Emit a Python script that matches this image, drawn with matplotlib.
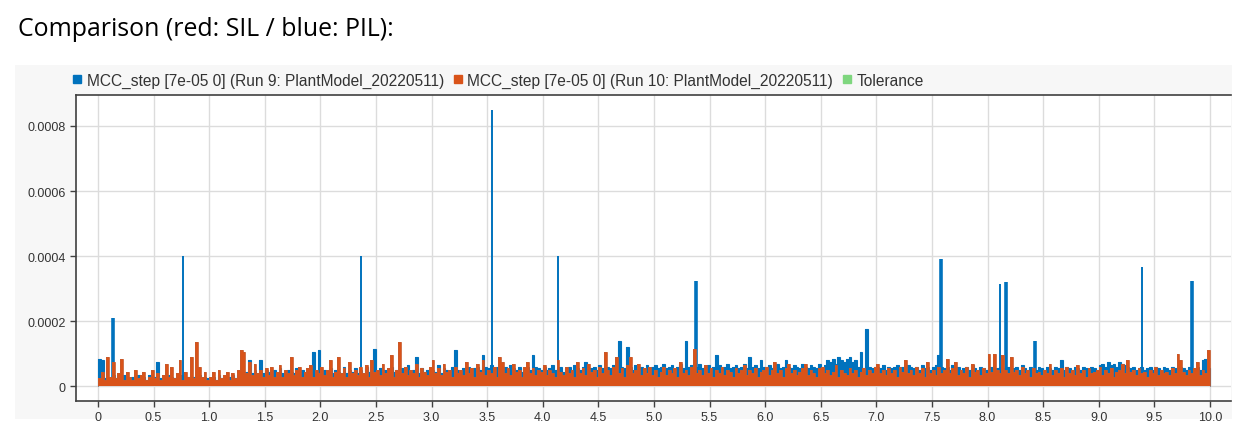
import numpy as np
import matplotlib
matplotlib.use("Agg")
import matplotlib.pyplot as plt
from matplotlib.lines import Line2D

# sample grid of the two runs (s)
dt = 0.025
t_start = 0.0

# Run 10 (SIL, orange) - values in units of 1e-5, one row per second
sil_vals = [
    2.5, 4.5, 2, 9, 3, 7.5, 2.5, 4, 8.5, 2, 4.5, 3, 2, 5, 2.5, 3.5, 4.5, 2, 3, 5,
    2.5, 4, 2, 3.5, 7, 3, 6, 2.5, 4, 8, 2, 4.5, 3, 9, 2.5, 13.5, 6, 3, 4.5, 2,
    3, 4.5, 2, 5, 2.5, 3.5, 4.5, 2, 4, 2.5, 5, 11, 10.5, 4, 7.5, 3.5, 7, 4, 5, 3,
    5.5, 3.5, 6, 3, 4.5, 6.5, 3, 5, 4, 9, 3.5, 5, 6, 3, 4.5, 5.5, 6.5, 3, 5, 4,
    6, 3.5, 5, 8, 3, 4.5, 9, 4, 5.5, 3, 7.5, 4, 5, 3.5, 6, 4, 6.5, 3, 8, 4.5,
    5, 3.5, 7, 4, 5.5, 9.5, 3, 5, 13.5, 4, 6, 3.5, 5, 4, 7, 3, 5.5, 4.5, 3.5, 6,
    8, 4, 5.5, 3.5, 7, 4.5, 5, 3, 6, 4, 5, 3.5, 7.5, 4, 5.5, 3, 7, 4.5, 8, 3.5,
    5, 4, 6, 3, 9, 7.5, 4, 5.5, 3.5, 7, 4.5, 5, 3, 6, 7.5, 4, 5.5, 3.5, 5, 4.5,
    6.5, 3.5, 5, 4, 3, 8, 4.5, 3.5, 6, 4, 5, 3, 7.5, 4, 5.5, 3.5, 7, 4.5, 5, 3,
    6, 4, 10.5, 5, 3.5, 6, 9, 4, 5.5, 3, 6.5, 9, 4, 5, 7, 3.5, 5.5, 4, 6, 3.5,
    5, 3, 4.5, 6, 3.5, 5, 4, 5.5, 3, 7.5, 4, 5, 3.5, 6, 11.5, 4, 5, 3.5, 6.5, 4,
    5.5, 3, 5, 4, 6, 3.5, 5, 4.5, 3, 5.5, 4, 5, 6.5, 3.5, 5, 4, 5.5, 3, 4.5, 5,
    6, 3.5, 5, 7.5, 4, 5, 3, 5.5, 7, 4, 5, 3.5, 4.5, 5.5, 7, 3.5, 5, 4, 3, 5.5,
    6, 4, 5, 3.5, 4.5, 6.5, 3, 5, 4, 3.5, 5.5, 4, 5, 3, 4.5, 5.5, 3.5, 5, 4, 6,
    7, 4, 5, 3.5, 5.5, 4, 5, 3, 6, 4.5, 8, 4, 5, 3.5, 6, 4, 5.5, 3, 7.5, 4,
    5, 3.5, 6, 4, 5, 8.5, 4, 5.5, 7.5, 3.5, 5, 4, 6, 3, 7, 4.5, 5, 3.5, 5.5, 4,
    10, 4.5, 10, 5, 4, 9.5, 5, 4, 9, 4.5, 5, 3.5, 6, 4, 5, 3, 5.5, 4, 4.5, 3.5,
    5, 4, 7, 3.5, 5, 4, 5.5, 3, 6, 4, 5, 3.5, 6.5, 4, 5, 3, 5.5, 4, 4.5, 5,
    6, 3.5, 5, 4, 5.5, 3, 4.5, 5, 7, 4, 8, 4.5, 5, 3.5, 5.5, 4, 4.5, 3, 5, 4,
    6, 3.5, 5, 4, 4.5, 3.5, 5.5, 4, 10, 8, 4.5, 3.5, 5, 4, 5.5, 7.5, 3.5, 5, 4, 11,
]

# Run 9 (PIL, blue) - values in units of 1e-5
pil_vals = [
    8.5, 8, 2.5, 3, 2, 3.5, 2.5, 3, 2, 3.5, 3, 2.5, 3, 2, 3.5, 2.5, 3, 2, 3.5, 2.5,
    3, 7.5, 2.5, 3, 2, 3.5, 3, 2.5, 3, 2, 3.5, 2.5, 3, 2, 3, 2.5, 3.5, 2, 3, 2.5,
    2.5, 3, 2, 3.5, 2.5, 3, 2, 3, 3.5, 2.5, 3.5, 4, 3, 4.5, 8, 4, 5, 3.5, 8, 4,
    5, 4.5, 3.5, 5, 4, 5.5, 4, 3.5, 5, 4.5, 4, 5.5, 3.5, 5, 4, 4.5, 5, 10.5, 4, 11,
    4.5, 5, 3.5, 5.5, 4, 5, 4.5, 3.5, 6, 4, 5, 4.5, 5.5, 4, 5, 3.5, 6, 4.5, 5, 11.5,
    4, 5.5, 4.5, 5, 4, 6, 4.5, 5, 4, 5.5, 4, 6.5, 4.5, 5, 9, 4, 5.5, 4.5, 5, 4,
    5, 4.5, 6.5, 4, 5.5, 5, 4.5, 6, 11, 5, 4.5, 5.5, 5, 6, 4.5, 5.5, 6, 5, 9.5, 6,
    5.5, 6.5, 5, 6, 4.5, 5.5, 6, 5, 6.5, 5.5, 5, 6, 4.5, 5.5, 6, 5, 9.5, 6, 5.5, 5,
    6, 5, 5.5, 6.5, 5, 5.5, 6, 4.5, 5.5, 6, 5, 6.5, 5.5, 5, 6, 7.5, 5, 5.5, 6, 5,
    6.5, 5.5, 5, 6, 5.5, 6.5, 5, 14, 6, 5.5, 12, 6, 5, 6.5, 5.5, 6, 5, 6.5, 5.5, 6,
    6.5, 5.5, 6, 7, 5.5, 6, 6.5, 5, 6, 7, 5.5, 14, 6, 6.5, 5.5, 6, 7, 5.5, 6, 6.5,
    5, 6, 9.5, 6.5, 5.5, 6, 7, 5.5, 6, 6.5, 5.5, 6, 7, 5.5, 9, 6, 6.5, 5.5, 8, 6,
    6, 6.5, 5.5, 6, 7, 5.5, 6, 8, 6, 5.5, 6.5, 6, 5.5, 7, 6, 5.5, 6.5, 6, 5.5, 7,
    6, 6.5, 8, 7.5, 8.5, 7, 9, 8, 7.5, 8.5, 9, 7.5, 8, 6, 10.5, 5.5, 17.5, 6, 5.5, 6,
    6, 5.5, 6.5, 5, 6, 5.5, 6, 6.5, 5.5, 6, 5, 6.5, 6, 5.5, 6, 5, 6.5, 5.5, 6, 5,
    6, 6.5, 9.5, 6, 5.5, 6, 5, 6.5, 5.5, 6, 5, 5.5, 6, 5, 6.5, 5.5, 5, 6, 5.5, 5,
    5.5, 6, 5, 5.5, 6, 5, 5.5, 6, 5, 5.5, 6, 5, 6.5, 5.5, 5, 6, 5.5, 5, 6, 5.5,
    5, 6, 5.5, 5, 6, 5.5, 8, 5, 6, 5.5, 5, 6, 5.5, 5, 6, 5.5, 5, 6, 5.5, 5,
    6.5, 7, 6, 7.5, 6.5, 7, 6, 7.5, 7, 6.5, 6, 5.5, 6, 5, 5.5, 6, 5, 5.5, 6, 5,
    6, 5.5, 5, 6, 5.5, 5, 6, 5.5, 5, 6, 5.5, 5, 6, 5.5, 5, 6, 5, 8, 8.5, 5.5,
]

# isolated PIL spikes: time (s), height (1e-5)
spike_t = [0.136, 0.763, 2.366, 3.547, 4.134, 5.381, 7.585, 8.108, 8.163, 8.43, 9.394, 9.84]
spike_h = [21, 40, 40, 85, 40, 32.5, 39, 31.5, 32, 14, 36.5, 32.5]
spike_thick = [True, False, False, False, False, True, True, False, True, True, False, True]

labels = ["MCC_step [7e-05 0] (Run 9: PlantModel_20220511)",
          "MCC_step [7e-05 0] (Run 10: PlantModel_20220511)",
          "Tolerance"]
xticks = np.arange(0, 10.01, 0.5)
xtick_labels = ["%.1f" % v if v > 0 else "0" for v in xticks]
yticks = [0, 0.0002, 0.0004, 0.0006, 0.0008]
ytick_labels = ["0", "0.0002", "0.0004", "0.0006", "0.0008"]

blue = "#0072BD"
orange = "#D95319"
green = "#7ED67E"

sil = np.array(sil_vals) * 1e-5
pil = np.array(pil_vals) * 1e-5
edges = t_start + dt * np.arange(len(sil) + 1)

fig = plt.figure(figsize=(12.54, 4.35), dpi=100)

# light grey panel behind the plot, like the inspector window
panel = fig.add_axes([15 / 1254, 1 - 420 / 435, 1217 / 1254, 354 / 435], zorder=0)
panel.set_facecolor("#f7f7f7")
panel.set_xticks([])
panel.set_yticks([])
for s in panel.spines.values():
    s.set_visible(False)

fig.text(18 / 1254, 1 - 30 / 435, "Comparison (red: SIL / blue: PIL):",
         fontsize=17.9, family="Open Sans", va="center", ha="left", color="black")

ax = fig.add_axes([76 / 1254, 1 - 402 / 435, (1231 - 76) / 1254, (402 - 96) / 435],
                  zorder=1)
ax.set_facecolor("white")

# zero-order-hold signals, filled down to zero plus a thin edge
ax.stairs(pil, edges, baseline=0, fill=True, color=blue, zorder=2, lw=0)
ax.stairs(pil, edges, baseline=0, color=blue, zorder=2, lw=0.8)
for st, sh, thick in zip(spike_t, spike_h, spike_thick):
    ax.vlines(st, 0, sh * 1e-5, color=blue, lw=2.6 if thick else 1.4, zorder=2)
ax.stairs(sil, edges, baseline=0, fill=True, color=orange, zorder=3, lw=0)
ax.stairs(sil, edges, baseline=0, color="#c85a2c", zorder=3, lw=0.6)

ax.set_xlim(-0.198, 10.19)
ax.set_ylim(-0.0000452, 0.000895)
ax.set_xticks(xticks)
ax.set_xticklabels(xtick_labels)
ax.set_yticks(yticks)
ax.set_yticklabels(ytick_labels)
ax.grid(True, color="#dcdcdc", lw=1)
ax.set_axisbelow(True)

for side in ["left", "bottom", "top"]:
    ax.spines[side].set_color("#404040")
    ax.spines[side].set_linewidth(1.2)
ax.spines["right"].set_visible(False)
ax.tick_params(axis="both", colors="#404040", labelcolor="#333333", length=4,
               width=1, labelsize=9)
for lab in ax.get_xticklabels() + ax.get_yticklabels():
    lab.set_family("Liberation Sans")

handles = [Line2D([], [], marker="s", ls="none", markersize=6, color=c)
           for c in (blue, orange, green)]
ax.legend(handles, labels, loc="lower left", bbox_to_anchor=(-0.009, 1.0), ncol=3,
          frameon=False, handlelength=0.6, handletextpad=0.3, columnspacing=0.6,
          borderaxespad=0.05, prop={"family": "Liberation Sans", "size": 11.2},
          labelcolor="#333333")

fig.savefig("out.png", dpi=100, facecolor="white")
